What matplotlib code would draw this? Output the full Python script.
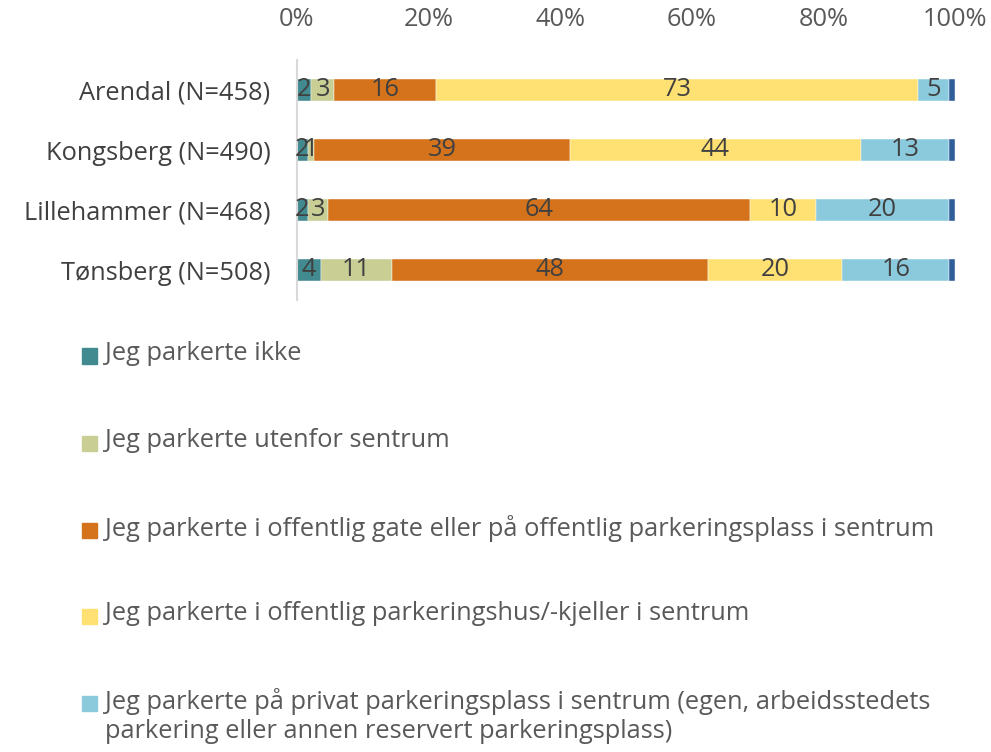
import matplotlib
matplotlib.use("Agg")
import matplotlib.pyplot as plt
from matplotlib.patches import Rectangle
import numpy as np

plt.rcParams['font.family'] = ['Open Sans', 'DejaVu Sans']

categories = ["Arendal (N=458)", "Kongsberg (N=490)", "Lillehammer (N=468)", "Tønsberg (N=508)"]
series_names = [
    "Jeg parkerte ikke",
    "Jeg parkerte utenfor sentrum",
    "Jeg parkerte i offentlig gate eller på offentlig parkeringsplass i sentrum",
    "Jeg parkerte i offentlig parkeringshus/-kjeller i sentrum",
    "Jeg parkerte på privat parkeringsplass i sentrum (egen, arbeidsstedets\nparkering eller annen reservert parkeringsplass)",
    "Annet",
]
ikke = [2.2, 1.6, 1.6, 3.6]
utenfor = [3.4, 1.0, 3.1, 10.9]
gate = [15.5, 38.9, 64.2, 48.0]
hus = [73.3, 44.2, 10.0, 20.4]
privat = [4.7, 13.4, 20.2, 16.2]
annet = [0.9, 0.9, 0.9, 0.9]
values = [ikke, utenfor, gate, hus, privat, annet]
colors = ["#418A8F", "#C8CE94", "#D4731B", "#FFE073", "#8BC9DD", "#2F5E98"]
xticks = [0, 20, 40, 60, 80, 100]
tick_labels = ["0%", "20%", "40%", "60%", "80%", "100%"]

W, H = 991, 752
fig = plt.figure(figsize=(W/100, H/100), dpi=100)
ax = fig.add_axes([297/W, 1-300/H, (955-297)/W, 240/H])

y = np.arange(len(categories))
left = np.zeros(len(categories))
fs = 18.3
for i, (vals, col) in enumerate(zip(values, colors)):
    vals = np.array(vals)
    bars = ax.barh(y, vals, left=left, height=0.38, color=col,
                   edgecolor='white', linewidth=0.3)
    if i < 5:
        ax.bar_label(bars, labels=[f"{v:.0f}" for v in vals], label_type='center',
                     fontsize=fs, color='#404040')
    left += vals

ax.set_xlim(0, 100)
ax.set_ylim(len(categories)-0.5, -0.5)
ax.set_yticks(y)
ax.set_yticklabels(categories, fontsize=fs, color='#404040')
ax.set_xticks(xticks)
ax.set_xticklabels(tick_labels, fontsize=fs, color='#595959')
ax.xaxis.tick_top()
ax.tick_params(axis='both', length=0)
ax.tick_params(axis='x', pad=20)
ax.tick_params(axis='y', pad=19)
for s in ['top', 'right', 'bottom']:
    ax.spines[s].set_visible(False)
ax.spines['left'].set_color('#D9D9D9')
ax.spines['left'].set_linewidth(1.5)

# legend (manual layout below the plot)
leg_y = [356, 443, 530, 616, 703]
for name, col, yy in zip(series_names[:5], colors[:5], leg_y):
    fig.patches.append(Rectangle((82/W, 1-(yy+7.5)/H), 15/W, 15/H,
                                 transform=fig.transFigure, color=col))
    fig.text(105/W, 1-(yy-15)/H, name, fontsize=fs, color='#595959',
             va='top', ha='left', linespacing=1.2)

fig.savefig("out.png", dpi=100)
